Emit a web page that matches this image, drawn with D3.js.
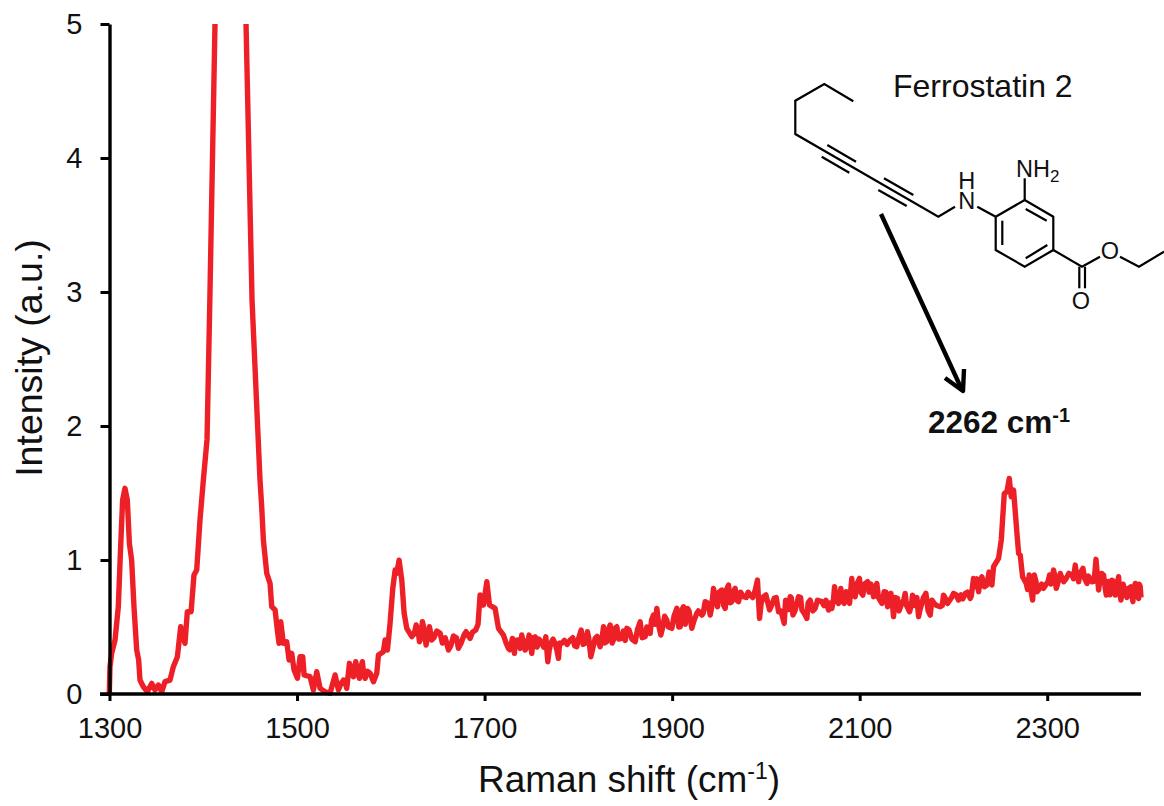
<!DOCTYPE html>
<html lang="en">
<head>
<meta charset="UTF-8">
<title>Ferrostatin 2 Raman spectrum</title>
<script src="https://d3js.org/d3.v7.min.js"></script>
<style>
    body { margin: 0; background: #fff; }
    svg { display: block; }
    text { font-family: "Liberation Sans", Arial, sans-serif; fill: #111; }
</style>
</head>
<body>
<div id="chart"></div>
<script>
    //values
    var shifts = [1299.8,1300.5,1302.3,1305.9,1309.4,1311.9,1314,1316.5,1319,1321.2,1323.6,1326.1,1329,1331.1,1332.5,1336.1,1340.4,1345,1348.5,1352.1,
        1355.7,1359.2,1364.5,1368.1,1372.4,1375.9,1380.5,1383,1387,1390.1,1393,1396.5,1400.1,1404,1407,1412.5,1420,1438,1445.6,1452,
        1460.5,1462.3,1464.1,1467.7,1471.2,1473,1476.6,1479,1480.8,1482.6,1485.4,1489,1491.5,1494.3,1496.8,1500.4,1503.2,1506.1,1507.5,1513.9,
        1517.4,1521,1524.6,1529.9,1535.2,1540.6,1544.1,1549.5,1553,1555.9,1560.1,1562.6,1566.5,1569.7,1572.6,1577.9,1581.5,1585,1586.8,1592.1,
        1593.9,1596.4,1599.2,1602.1,1604.6,1606.3,1608.8,1611.7,1614.2,1617,1622.4,1627,1630.5,1633.7,1637.6,1641.2,1643.7,1652.6,1661.5,1666.8,
        1672.1,1680.3,1684.6,1690.6,1695.2,1698.8,1702.4,1705.2,1711.2,1714.8,1720.1,1725.4,1729.7,1731.8,1736.1,1739.6,1743.2,1747.5,1750.3,1753.9,
        1761,1765.3,1767.4,1770.6,1775.2,1778.8,1782.3,1791.2,1798.3,1803,1807.2,1809.7,1813.3,1817.9,1823.2,1826.8,1830.3,1833.9,1837.4,1841,
        1846.3,1851.7,1860.6,1865.9,1871.2,1876.6,1880.1,1883.7,1887.9,1894.3,1899.7,1905,1908.6,1912.1,1916.4,1921,1926.3,1931.7,1935.2,1940.6,
        1944.1,1948.4,1953,1956.6,1960.1,1963.7,1967.2,1970.8,1976.1,1983.2,1988.6,1991,1993.2,1997.5,2003.9,2008.8,2013.5,2019.5,2022.3,2025.9,
        2028.8,2034.8,2038.4,2043.7,2047.2,2052.6,2059.6,2066.8,2070.3,2073.2,2077.4,2079.9,2083.5,2085.6,2089.2,2091.6,2095.2,2099.8,2103.4,2108.4,
        2114.8,2118.3,2123.7,2126.1,2129.7,2133.3,2136.1,2140.4,2145,2148.5,2153.2,2156.4,2162.8,2166.3,2170.6,2175.2,2179.5,2185.9,2189.4,2193.7,
        2200.1,2205.4,2212.6,2217.9,2221.4,2226.8,2230.3,2235.7,2241,2242.8,2248.1,2251,2254.2,2257,2259.5,2261.6,2264.1,2267.7,2269.5,2271.2,
        2273.7,2277.6,2280.8,2284.4,2286.2,2289,2296.1,2302.5,2306.8,2309.6,2313.9,2317.5,2326.4,2329.9,2333.5,2338.1,2342.4,2347.7,2352,2354.8,
        2360.1,2363,2369,2372.6,2376.1,2378.6,2383.2,2386.8,2391.4,2393.9,2397.5,2399.2,2400];

    var intensity = [0,.204,.303,.403,.652,1.1,1.448,1.535,1.448,1.124,1,.652,.328,.253,.104,.054,.017,.079,.03,.067,
        .017,.092,.104,.204,.278,.502,.378,.614,.614,.888,.925,1.298,1.597,1.9,2.94,5,6.5,6.5,5,2.94,
        1.597,1.398,1.149,.9,.826,.652,.627,.477,.378,.54,.378,.39,.254,.303,.179,.117,.278,.278,.142,.129,
        .03,.166,.042,.017,.005,.142,.03,.104,.042,.229,.129,.241,.117,.241,.117,.154,.092,.154,.291,.316,
        .403,.328,.527,.788,.925,.9,.999,.85,.602,.49,.428,.515,.39,.54,.365,.502,.403,.453,.328,.433,
        .341,.465,.415,.477,.739,.664,.838,.664,.639,.49,.44,.34,.415,.303,.403,.44,.328,.44,.303,.427,
        .378,.427,.241,.378,.378,.266,.378,.403,.353,.477,.378,.465,.278,.415,.353,.502,.39,.515,.403,.502,
        .415,.49,.39,.539,.427,.452,.589,.639,.44,.552,.49,.639,.502,.651,.639,.49,.602,.589,.689,.589,
        .788,.651,.776,.639,.813,.689,.788,.689,.726,.738,.776,.85,.564,.726,.627,.714,.614,.527,.676,.726,
        .589,.726,.627,.564,.701,.639,.689,.626,.639,.801,.676,.788,.676,.763,.676,.863,.726,.863,.738,.838,
        .726,.825,.676,.763,.651,.751,.577,.713,.676,.751,.614,.738,.577,.676,.751,.589,.676,.651,.738,.676,
        .751,.701,.751,.713,.863,.763,.875,.813,.813,.95,1.012,1.149,1.497,1.51,1.609,1.472,1.522,1.199,1.049,1.037,
        .875,.825,.888,.701,.888,.763,.788,.888,.925,.788,.9,.838,.888,.962,.838,.937,.825,.838,1.005,.776,
        .888,.738,.85,.738,.875,.701,.763,.788,.689,.825,.713,.801,.72];

    //second pass over the noisy stretches, merged in by shift below
    var extraShifts = [1547,1551,1558,1564,1568,1571,1575,1625,1629,1632,1635,1639,1646,1649,1655,1658,1664,1670,1675,1678,1683,1687,1693,
        1723,1727,1733,1738,1741,1745,1749,1752,1756,1758,1763,1769,1773,1777,1780,1785,1788,1794,1796,1800,1805,1811,1815,1820,1825,1828,
        1832,1836,1839,1843,1848,1850,1854,1857,1863,1868,1873,1878,1882,1886,1890,1892,1896,1902,1907,1910,1914,1918,1923,1928,1933,1938,
        1942,1946,1950,1955,1958,1962,1965,1969,1973,1979,1981,1986,1995,2000,2006,2011,2016,2021,2024,2027,2031,2037,2041,2045,2050,2055,
        2062,2064,2068,2072,2075,2081,2087,2093,2097,2101,2105,2110,2112,2116,2120,2125,2128,2131,2135,2138,2142,2147,2150,2155,2159,2161,
        2164,2168,2173,2177,2182,2188,2191,2196,2198,2203,2208,2210,2215,2219,2223,2225,2228,2233,2238,2240,
        2279,2282,2285,2288,2291,2294,2299,2301,2304,2308,2311,2316,2320,2323,2328,2331,2335,2340,2344,2350,2356,2358,2362,2365,2367,2371,
        2374,2377,2381,2385,2389,2392,2395,2398];

    var extraIntensity = [.08,.1,.18,.18,.2,.15,.17,.45,.48,.42,.5,.42,.42,.47,.38,.42,.36,.42,.38,.44,.43,.46,.52,
        .38,.33,.4,.34,.4,.35,.37,.42,.35,.41,.35,.33,.41,.33,.38,.4,.37,.42,.36,.41,.37,.42,.33,.43,.4,.38,
        .48,.38,.49,.41,.47,.4,.48,.41,.48,.42,.5,.55,.52,.5,.5,.58,.5,.58,.5,.62,.52,.62,.54,.62,.6,.68,
        .64,.72,.76,.66,.78,.68,.76,.7,.76,.72,.76,.72,.68,.74,.66,.72,.62,.7,.63,.72,.62,.72,.6,.68,.62,.7,
        .66,.7,.68,.7,.7,.7,.74,.74,.82,.76,.82,.76,.82,.78,.72,.72,.76,.72,.66,.72,.62,.7,.66,.66,.66,.72,
        .62,.72,.62,.7,.66,.66,.72,.7,.72,.74,.74,.71,.76,.73,.8,.86,.82,.8,.91,.88,
        .78,.8,.76,.84,.78,.82,.82,.84,.82,.88,.82,.86,.86,.9,.86,.9,.9,.86,.88,.84,.84,.9,.78,.84,.74,.84,
        .78,.78,.82,.72,.8,.78,.74,.82];

    var xTicks = [1300,1500,1700,1900,2100,2300];
    var yTicks = [0,1,2,3,4,5];

    //molecule sketch, page pixels
    var chain = [[853.3,101.3],[824.3,84],[795.3,100.7],[795.3,134],[938.3,216.7],[955,206.7]];
    var ring = [[995.7,216.7],[1024.7,200],[1053.3,216.7],[1053.3,250],[1024.7,266.7],[995.7,250],[995.7,216.7]];
    var ethyl = [[1120,256.7],[1139,266.7],[1164,251.7]];
    var ester = [[1053.3,250],[1082,266.7],[1100,256.7]];
    var bonds = [
        [[827.3,145],[856,161.7]], [[821.7,156.7],[849.3,172.7]],
        [[884,178.3],[913.3,195]], [[878.3,190],[906.7,206]],
        [[977.3,206.7],[995.7,216.7]], [[1024.7,200],[1024.7,178.3]],
        [[1025.7,209],[1046.7,220.7]], [[1002.3,220.7],[1002.3,245]], [[1025.7,258.3],[1047.3,245]],
        [[1079.3,266.7],[1079.3,288.3]], [[1085,266.7],[1085,288.3]]
    ];

    var width = 1164, height = 806;

    var svg = d3.select("#chart").append("svg")
        .attr("width", width)
        .attr("height", height);

    var xScale = d3.scaleLinear().domain([1300, 2400]).range([109.5, 1141]);
    var yScale = d3.scaleLinear().domain([0, 5]).range([694, 24]);

    //the big peak runs off the top of the plot
    svg.append("clipPath").attr("id", "plotClip")
        .append("rect")
        .attr("x", 100).attr("y", 24)
        .attr("width", 1064).attr("height", 700);

    var spectrum = d3.zip(shifts.concat(extraShifts), intensity.concat(extraIntensity))
        .sort(function(a, b) { return d3.ascending(a[0], b[0]); });

    var line = d3.line()
        .x(function(d) { return xScale(d[0]); })
        .y(function(d) { return yScale(d[1]); });

    svg.append("path")
        .datum(spectrum)
        .attr("clip-path", "url(#plotClip)")
        .attr("d", line)
        .attr("fill", "none")
        .attr("stroke", "#ee2027")
        .attr("stroke-width", 5.4)
        .attr("stroke-linejoin", "round");

    var xAxis = svg.append("g")
        .attr("transform", "translate(0,694)")
        .call(d3.axisBottom(xScale).tickValues(xTicks).tickFormat(d3.format("d")).tickSize(7).tickSizeOuter(0).tickPadding(16));

    var yAxis = svg.append("g")
        .attr("transform", "translate(109.5,0)")
        .call(d3.axisLeft(yScale).tickValues(yTicks).tickFormat(d3.format("d")).tickSize(9).tickSizeOuter(0).tickPadding(18));

    [xAxis, yAxis].forEach(function(axis) {
        axis.select(".domain").attr("stroke", "#000").attr("stroke-width", 3.4);
        axis.selectAll(".tick line").attr("stroke", "#000").attr("stroke-width", 3);
        axis.selectAll(".tick text").style("font-size", "29px").attr("fill", "#111");
    });
    //zero tick on the y axis runs into the x axis line
    xAxis.select(".domain").attr("d", "M100,0H1141");

    var xTitle = svg.append("text")
        .attr("x", 629).attr("y", 792)
        .attr("text-anchor", "middle")
        .style("font-size", "37px");
    xTitle.append("tspan").text("Raman shift (cm");
    xTitle.append("tspan").attr("dy", -13).style("font-size", "23px").text("-1");
    xTitle.append("tspan").attr("dy", 13).text(")");

    svg.append("text")
        .attr("transform", "translate(42,358) rotate(-90)")
        .attr("text-anchor", "middle")
        .style("font-size", "37.5px")
        .text("Intensity (a.u.)");

    svg.append("text")
        .attr("x", 893).attr("y", 97)
        .style("font-size", "32px")
        .text("Ferrostatin 2");

    var peakLabel = svg.append("text")
        .attr("x", 928).attr("y", 433)
        .style("font-size", "31.5px")
        .style("font-weight", "bold");
    peakLabel.append("tspan").text("2262 cm");
    peakLabel.append("tspan").attr("dy", -11).style("font-size", "20px").text("-1");

    //molecule
    var mol = svg.append("g")
        .attr("fill", "none")
        .attr("stroke", "#000")
        .attr("stroke-width", 2.2)
        .attr("stroke-linejoin", "miter");

    var molLine = d3.line();
    [chain, ring, ethyl, ester].concat(bonds).forEach(function(pts) {
        mol.append("path").attr("d", molLine(pts));
    });

    var atoms = [["N", 966.7, 209], ["H", 966.7, 189], ["O", 1110, 259], ["O", 1081, 309]];
    atoms.forEach(function(a) {
        svg.append("text")
            .attr("x", a[1]).attr("y", a[2])
            .attr("text-anchor", "middle")
            .style("font-size", "23.5px")
            .text(a[0]);
    });

    var nh2 = svg.append("text")
        .attr("x", 1016).attr("y", 177)
        .style("font-size", "23.5px");
    nh2.append("tspan").text("NH");
    nh2.append("tspan").attr("dy", 5).style("font-size", "17px").text("2");

    //arrow to the alkyne
    var arrow = svg.append("g")
        .attr("fill", "none")
        .attr("stroke", "#000")
        .attr("stroke-width", 4.4)
        .attr("stroke-linejoin", "round");
    arrow.append("path").attr("d", molLine([[881,214],[962,390]]));
    arrow.append("path").attr("d", molLine([[945,378],[963,391],[964,369]]));
</script>
</body>
</html>
